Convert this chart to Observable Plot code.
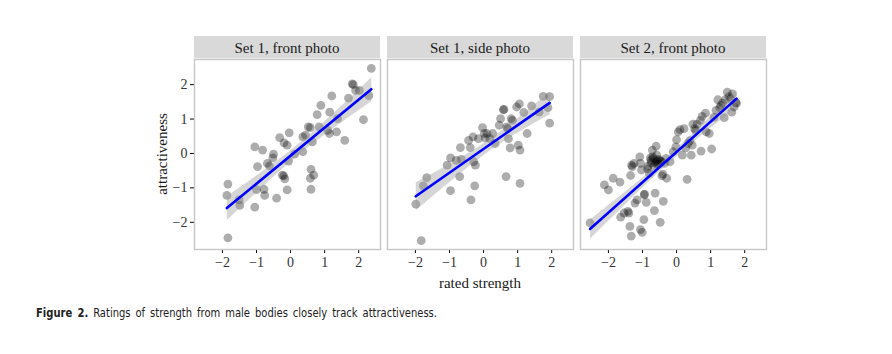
<!DOCTYPE html>
<html>
<head>
<meta charset="utf-8">
<script src="https://cdn.jsdelivr.net/npm/d3@7"></script>
<script src="https://cdn.jsdelivr.net/npm/@observablehq/plot@0.6"></script>
<style>
  html, body { margin: 0; padding: 0; background: #fff; width: 892px; height: 354px; overflow: hidden; }
  #chart { position: absolute; left: 0; top: 0; }
  #chart svg, #chart svg text { font-family: "Liberation Serif", "DejaVu Serif", serif !important; }
  #caption { position: absolute; left: 36px; top: 305px; font-family: "DejaVu Sans", "Liberation Sans", sans-serif; font-stretch: condensed; font-size: 12.5px; color: #222; word-spacing: 2px; white-space: nowrap; transform-origin: 0 0; }
  #caption b { font-weight: bold; }
</style>
</head>
<body>
<div id="chart"></div>
<div id="caption"><b>Figure 2.</b> Ratings of strength from male bodies closely track attractiveness.</div>
<script>
const panels = ["Set 1, front photo", "Set 1, side photo", "Set 2, front photo"];
const xTicks = [-2, -1, 0, 1, 2];
const yTicks = [-2, -1, 0, 1, 2];
const xLabel = "rated strength";
const yLabel = "attractiveness";

// Set 1, front photo
const set1FrontStrength = [-1.84,-1.87,-1.84,-1.51,-1.49,-1.05,-1.05,-0.97,-0.82,-0.78,-0.76,-0.68,-0.62,-0.50,-0.52,-0.41,-0.32,-0.24,-0.17,-0.19,-0.10,-0.10,-0.04,-0.06,0.12,0.36,0.36,0.44,0.52,0.58,0.64,0.60,0.58,0.68,0.60,0.78,0.84,0.89,1.09,1.15,1.14,1.21,1.35,1.38,1.59,1.70,1.81,1.84,1.91,2.02,2.14,2.30,2.37,-0.20,-1.00];
const set1FrontAttract = [-0.89,-1.22,-2.45,-1.35,-1.51,0.19,-1.56,-0.38,0.10,-1.04,-1.22,-0.29,-0.36,-0.02,-0.13,-1.30,0.46,-0.63,-0.74,0.31,0.24,-1.06,0.60,-0.22,-0.02,0.05,0.48,0.53,0.77,0.75,0.34,-0.46,-0.72,-0.63,-1.04,1.13,0.77,1.40,0.67,1.20,0.58,1.67,0.63,1.01,0.38,1.61,2.02,2.00,1.83,1.83,0.98,1.68,2.47,-0.65,-1.05];

// Set 1, side photo
const set1SideStrength = [-1.99,-1.83,-1.77,-1.67,-1.07,-0.97,-0.97,-0.70,-0.68,-0.65,-0.44,-0.39,-0.37,-0.31,-0.29,-0.26,-0.24,-0.15,-0.03,0.02,0.05,0.10,0.27,0.34,0.46,0.50,0.58,0.60,0.66,0.71,0.73,0.78,0.81,0.85,0.68,0.97,1.05,1.02,1.07,1.07,1.18,1.28,1.41,1.63,1.75,1.89,1.94,1.94,0.19,-0.80];
const set1SideAttract = [-1.47,-2.53,-0.94,-0.70,-0.34,-0.13,-1.08,-0.67,0.17,-0.17,0.38,0.17,-1.35,0.48,-0.24,-0.94,-0.34,0.43,0.75,0.58,0.45,0.58,0.58,0.29,0.82,1.01,1.27,1.28,-0.67,0.72,0.43,0.16,1.01,0.96,0.77,1.35,1.44,0.24,0.10,-0.87,1.19,0.58,1.38,1.20,1.66,1.33,1.65,0.88,0.43,-0.20];

// Set 2, front photo
const set2FrontStrength = [-2.54,-2.12,-2.00,-1.86,-1.66,-1.64,-1.54,-1.43,-1.40,-1.37,-1.33,-1.35,-1.32,-1.25,-1.22,-1.16,-1.08,-1.06,-1.03,-1.06,-1.01,-0.96,-0.94,-0.89,-0.84,-0.80,-0.77,-0.75,-0.71,-0.68,-0.65,-0.63,-0.60,-0.58,-0.56,-0.50,-0.48,-0.46,-0.43,-0.39,-0.36,-0.31,-0.29,-0.19,-0.10,-0.02,0.00,0.05,0.10,0.17,0.22,0.27,0.31,0.34,0.39,0.43,0.46,0.48,0.53,0.56,0.72,0.70,0.75,0.85,0.87,0.96,1.03,1.16,1.21,1.27,1.35,1.40,1.43,1.49,1.54,1.59,1.62,1.69,1.74,1.76,1.64,-0.75,-0.70,-0.62,-0.55,-0.52,-0.45,-0.66,-0.58,-1.30,-0.95,-0.85,-0.40,0.60,1.10,1.30];
const set2FrontAttract = [-2.02,-0.91,-1.06,-0.72,-0.83,-1.85,-1.73,-1.68,-1.73,-2.12,-2.40,-0.64,-0.34,-0.29,-1.44,-1.35,-0.10,-0.29,-0.48,-2.21,-2.29,-1.92,-1.18,-1.42,-0.37,-0.58,-0.13,-0.27,0.10,-0.14,-1.66,-1.15,0.21,-0.24,-0.32,-0.19,-2.00,-0.24,-0.65,-1.39,-0.29,-0.14,-0.72,-0.24,0.05,0.19,0.40,0.63,0.69,-0.05,0.72,0.16,-0.75,0.29,0.37,-0.05,0.24,0.85,0.72,0.67,0.07,0.96,1.08,1.17,0.63,0.58,0.13,1.25,1.56,1.33,1.46,1.04,1.56,1.78,1.65,1.59,1.20,1.35,1.48,1.46,1.73,-0.20,-0.10,-0.28,-0.18,-0.30,-0.22,-0.35,-0.05,-0.38,-1.20,-0.45,-0.60,0.85,1.05,1.40];

const rows = [];
[[set1FrontStrength, set1FrontAttract], [set1SideStrength, set1SideAttract], [set2FrontStrength, set2FrontAttract]]
  .forEach(([xs, ys], i) => xs.forEach((x, j) => rows.push({panel: panels[i], strength: x, attract: ys[j]})));

const minus = d => (d < 0 ? "\u2212" + Math.abs(d) : String(d));

const W = 892, H = 300, mL = 193, mR = 125, mT = 59, mB = 51;

const plot = Plot.plot({
  width: W, height: H,
  marginLeft: mL, marginRight: mR, marginTop: mT, marginBottom: mB,
  fx: {domain: panels, paddingInner: 0.036, paddingOuter: 0, axis: null, label: null},
  x: {domain: [-2.82, 2.64], ticks: xTicks, tickFormat: minus, tickSize: 4, tickPadding: 4, label: null},
  y: {domain: [-2.79, 2.73], ticks: yTicks, tickFormat: minus, tickSize: 4, tickPadding: 3, label: null},
  marks: [
    Plot.frame({stroke: "#c6c6c6", strokeWidth: 1.4}),
    Plot.dot(rows, {x: "strength", y: "attract", fx: "panel", r: 4.4, fill: "black", fillOpacity: 0.32, stroke: "none"}),
    Plot.linearRegressionY(rows, {x: "strength", y: "attract", fx: "panel", stroke: "#0000ff", strokeWidth: 2.6, fill: "#999999", fillOpacity: 0.4})
  ]
});

const svg = d3.select(plot);
svg.attr("font-family", "'Liberation Serif', 'DejaVu Serif', serif").attr("font-size", 14)
  .style("font-family", "'Liberation Serif', 'DejaVu Serif', serif").style("font-size", "14px");
svg.selectAll("g[aria-label*='tick label']").attr("font-size", 14).attr("fill", "#333");
const fx = plot.scale("fx");
const bw = fx.bandwidth;
const fxPos = p => fx.apply(p);
const strips = svg.append("g");
panels.forEach(p => {
  const x0 = fxPos(p);
  strips.append("rect").attr("x", x0).attr("y", 36).attr("width", bw).attr("height", mT - 36 - 0.7).attr("fill", "#d9d9d9");
  strips.append("text").attr("x", x0 + bw / 2).attr("y", 47.5).attr("text-anchor", "middle").attr("dominant-baseline", "central")
    .attr("font-size", "15px").attr("fill", "#1a1a1a").text(p);
});
svg.append("text").attr("transform", `translate(161.5,${(mT + H - mB) / 2}) rotate(-90)`).attr("text-anchor", "middle")
  .attr("dominant-baseline", "central").attr("font-size", "15px").attr("fill", "#1a1a1a").text(yLabel);
svg.append("text").attr("x", fxPos(panels[1]) + bw / 2).attr("y", 283).attr("text-anchor", "middle")
  .attr("dominant-baseline", "central").attr("font-size", "15px").attr("fill", "#1a1a1a").text(xLabel);

document.getElementById("chart").appendChild(plot);

const cap = document.getElementById("caption");
const cw = cap.getBoundingClientRect().width;
if (cw > 0) cap.style.transform = `scaleX(${401 / cw})`;
</script>
</body>
</html>
